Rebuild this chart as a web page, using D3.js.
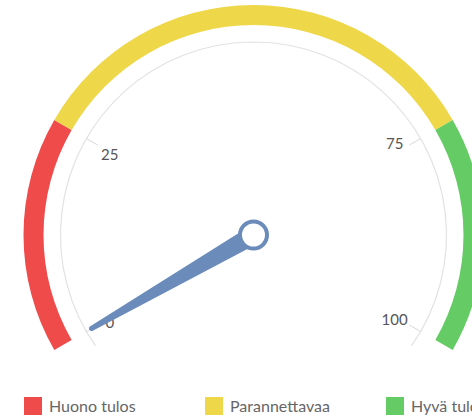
<!DOCTYPE html>
<html>
<head>
    <meta charset="utf-8" />
    <script src="https://cdn.jsdelivr.net/npm/d3@7"></script>
    <style>
        body { margin: 0; background: #fff; }
        svg { display: block; font-family: Lato, "Noto Sans", sans-serif; }
        .tickLabel { font-size: 15px; fill: #555; }
        .legendText { font-size: 16px; fill: #666; }
    </style>
</head>
<body>
    <script>
        // gauge data
        var categories = ["Huono tulos", "Parannettavaa", "Hyvä tulos"];
        var bandFrom = [0, 25, 75];
        var bandTo = [25, 75, 100];
        var bandColors = ["#ef4b4b", "#efd74a", "#65cb65"];
        var tickValues = [0, 25, 75, 100];
        var needleValue = [0];

        var svgWidth = 472,
            svgHeight = 418,
            cx = 253.5,
            cy = 235,
            bandOuter = 230,
            bandInner = 210,
            axisRadius = 193,
            tickLength = 13,
            labelRadius = 166,
            needleLength = 187;

        var svg = d3.select("body").append("svg")
            .attr("width", svgWidth)
            .attr("height", svgHeight);

        var angle = d3.scaleLinear()
            .domain([0, 100])
            .range([-2 * Math.PI / 3, 2 * Math.PI / 3]);

        var g = svg.append("g")
            .attr("transform", "translate(" + cx + "," + cy + ")");

        // background axis line (reaches a bit past the ends)
        var extra = 5 * Math.PI / 180;
        g.append("path")
            .attr("d", d3.arc()({
                innerRadius: axisRadius,
                outerRadius: axisRadius,
                startAngle: angle(0) - extra,
                endAngle: angle(100) + extra
            }))
            .attr("fill", "none")
            .attr("stroke", "#e2e2e2")
            .attr("stroke-width", 1.2);

        // ticks
        g.selectAll(".tick")
            .data(tickValues)
            .enter().append("line")
            .attr("class", "tick")
            .attr("x1", function(d) { return axisRadius * Math.sin(angle(d)); })
            .attr("y1", function(d) { return -axisRadius * Math.cos(angle(d)); })
            .attr("x2", function(d) { return (axisRadius - tickLength) * Math.sin(angle(d)); })
            .attr("y2", function(d) { return -(axisRadius - tickLength) * Math.cos(angle(d)); })
            .attr("stroke", "#d8d8d8")
            .attr("stroke-width", 1);

        g.selectAll(".tickLabel")
            .data(tickValues)
            .enter().append("text")
            .attr("class", "tickLabel")
            .attr("x", function(d) { return (angle(d) < 0 ? labelRadius : labelRadius - 3) * Math.sin(angle(d)); })
            .attr("y", function(d) {
                // labels on the right sit a bit further from the middle, the left ones a bit lower
                var left = angle(d) < 0;
                var ry = left ? 168 : 176;
                return -ry * Math.cos(angle(d)) + (left ? 4 : -3);
            })
            .attr("dy", "0.35em")
            .attr("text-anchor", "middle")
            .text(function(d) { return d; });

        // coloured plot bands
        var bandArc = d3.arc()
            .innerRadius(bandInner)
            .outerRadius(bandOuter)
            .startAngle(function(d, i) { return angle(bandFrom[i]); })
            .endAngle(function(d, i) { return angle(bandTo[i]); });

        g.selectAll(".band")
            .data(categories)
            .enter().append("path")
            .attr("class", "band")
            .attr("d", bandArc)
            .attr("fill", function(d, i) { return bandColors[i]; });

        // needle
        var baseHalf = 9.5, topHalf = 2.5;
        var needlePath = "M" + (-baseHalf) + ",0" +
            "L" + (-topHalf) + "," + (-needleLength) +
            "A" + topHalf + "," + topHalf + " 0 0 1 " + topHalf + "," + (-needleLength) +
            "L" + baseHalf + ",0Z";

        g.selectAll(".needle")
            .data(needleValue)
            .enter().append("path")
            .attr("class", "needle")
            .attr("d", needlePath)
            .attr("fill", "#6b8cba")
            .attr("transform", function(d) { return "rotate(" + (angle(d) * 180 / Math.PI) + ")"; });

        g.append("circle")
            .attr("r", 13.5)
            .attr("fill", "#fff")
            .attr("stroke", "#6b8cba")
            .attr("stroke-width", 4);

        // legend
        var legend = svg.selectAll(".legendItem")
            .data(categories)
            .enter().append("g")
            .attr("class", "legendItem")
            .attr("transform", function(d, i) { return "translate(" + (24 + i * 181) + ",397)"; });

        legend.append("rect")
            .attr("width", 18)
            .attr("height", 18)
            .attr("fill", function(d, i) { return bandColors[i]; });

        legend.append("text")
            .attr("class", "legendText")
            .attr("x", 25)
            .attr("y", 15)
            .text(function(d) { return d; });
    </script>
</body>
</html>
